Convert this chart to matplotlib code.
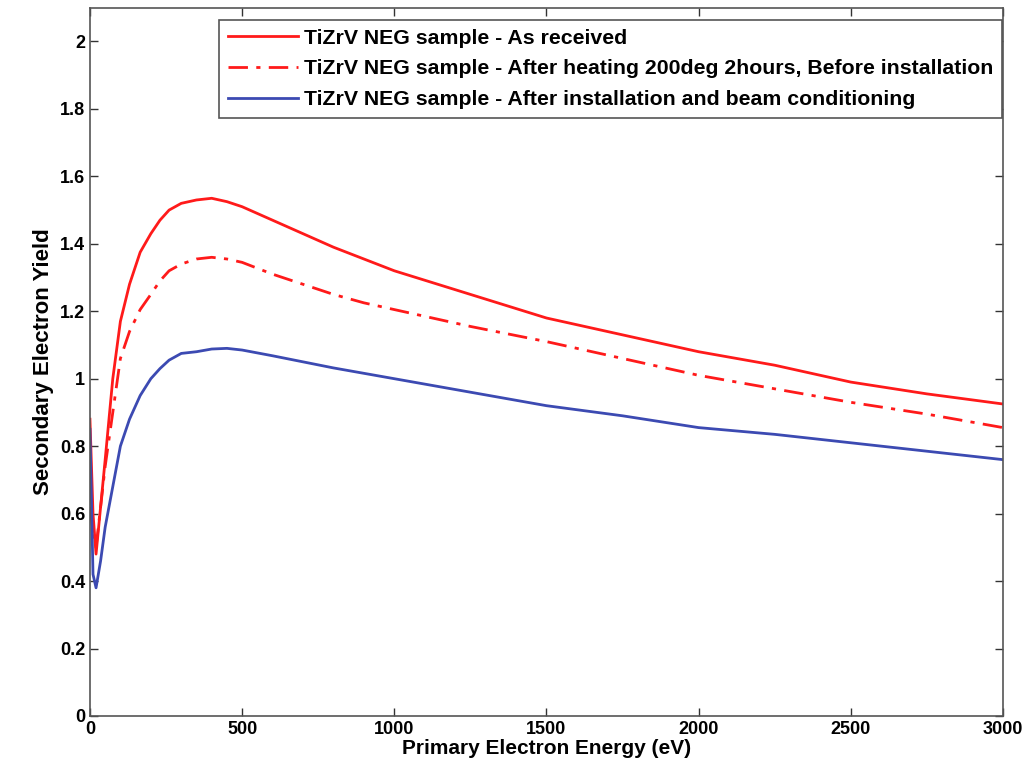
import matplotlib
matplotlib.use("Agg")
import matplotlib.pyplot as plt

# primary electron energy (eV)
energy = [0, 10, 20, 35, 50, 75, 100, 130, 165, 200, 230, 260, 300, 350,
          400, 450, 500, 600, 700, 800, 900, 1000, 1250, 1500, 1750, 2000,
          2250, 2500, 2750, 3000]

# secondary electron yield per sample condition
sey_received = [0.88, 0.60, 0.48, 0.62, 0.76, 1.00, 1.17, 1.28, 1.375, 1.43,
                1.47, 1.50, 1.52, 1.53, 1.535, 1.525, 1.51, 1.47, 1.43, 1.39,
                1.355, 1.32, 1.25, 1.18, 1.13, 1.08, 1.04, 0.99, 0.955, 0.925]
sey_heated = [0.62, 0.55, 0.50, 0.62, 0.74, 0.90, 1.06, 1.14, 1.205, 1.25,
              1.29, 1.32, 1.34, 1.355, 1.36, 1.355, 1.345, 1.31, 1.28, 1.25,
              1.225, 1.205, 1.155, 1.11, 1.06, 1.01, 0.97, 0.93, 0.895, 0.855]
sey_conditioned = [0.85, 0.42, 0.38, 0.46, 0.56, 0.68, 0.80, 0.88, 0.95, 1.00,
                   1.03, 1.055, 1.075, 1.08, 1.088, 1.09, 1.085, 1.068, 1.05,
                   1.032, 1.016, 1.00, 0.96, 0.92, 0.89, 0.855, 0.835, 0.81,
                   0.785, 0.76]

labels = [
    "TiZrV NEG sample - As received",
    "TiZrV NEG sample - After heating 200deg 2hours, Before installation",
    "TiZrV NEG sample - After installation and beam conditioning",
]

plt.rcParams["font.family"] = ["Liberation Sans Narrow", "Liberation Sans", "DejaVu Sans"]
plt.rcParams["font.weight"] = "bold"

fig = plt.figure(figsize=(10.34, 7.74), dpi=100)
ax = fig.add_axes([0.087, 0.075, 0.883, 0.915])

ax.plot(energy, sey_received, color="#ff1a1a", lw=2.0, label=labels[0])
ax.plot(energy, sey_heated, color="#ff1a1a", lw=2.0, ls=(0, (7, 3, 1.5, 3)), label=labels[1])
ax.plot(energy, sey_conditioned, color="#3c4ab2", lw=2.0, label=labels[2])

ax.set_xlim(0, 3000)
ax.set_ylim(0, 2.1)
ax.set_xticks(range(0, 3001, 500))
ax.set_yticks([i / 10 for i in range(0, 21, 2)])
ax.set_yticklabels(["0", "0.2", "0.4", "0.6", "0.8", "1", "1.2", "1.4", "1.6", "1.8", "2"])

ax.tick_params(direction="in", top=True, right=True, length=6, width=1.0,
               labelsize=13, color="#333333")
for s in ax.spines.values():
    s.set_color("#555555")
    s.set_linewidth(1.2)

ax.set_xlabel("Primary Electron Energy (eV)", fontsize=15, fontweight="bold", labelpad=1)
ax.set_ylabel("Secondary Electron Yield", fontsize=16, fontweight="bold", labelpad=4)

leg = ax.legend(loc="upper right", bbox_to_anchor=(0.999, 0.983), fontsize=15.3,
                fancybox=False, framealpha=1, edgecolor="#555555",
                handlelength=3.3, handletextpad=0.25, borderpad=0.42,
                borderaxespad=0.0, labelspacing=0.55)
leg.get_frame().set_linewidth(1.2)

fig.savefig("out.png", dpi=100)
